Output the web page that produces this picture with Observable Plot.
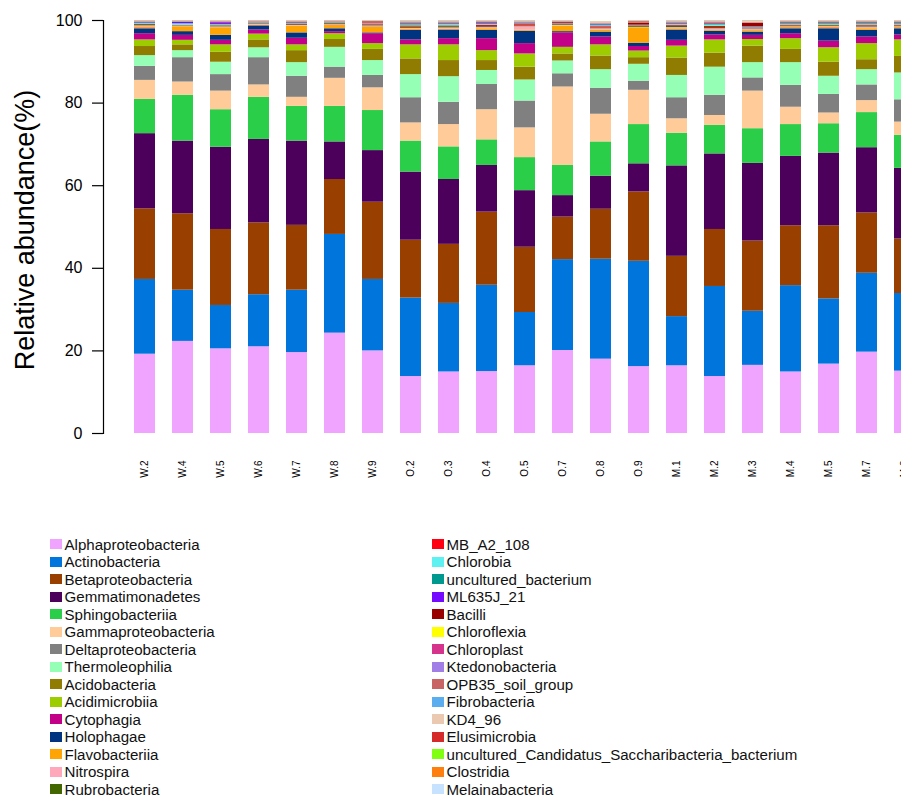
<!DOCTYPE html>
<html>
<head>
<meta charset="utf-8">
<script src="https://cdn.jsdelivr.net/npm/d3@7"></script>
<script src="https://cdn.jsdelivr.net/npm/@observablehq/plot@0.6"></script>
<style>
  html, body { margin: 0; padding: 0; background: #fff; overflow: hidden; width: 901px; height: 799px; }
  body { font-family: "Liberation Sans", Arial, Helvetica, sans-serif; position: relative; }
  #chart { position: absolute; left: 0; top: 0; width: 935px; }
  #chart svg { max-width: none !important; width: 935px !important; height: 490px !important; }
  #legend { position: absolute; left: 0; top: 0; width: 901px; height: 799px; }
  .item { position: absolute; height: 17.5px; line-height: 17.5px; font-size: 15.1px; color: #111; white-space: nowrap; }
  .sw { position: absolute; top: 3.5px; width: 12px; height: 10px; }
  .lab { position: absolute; }
</style>
</head>
<body>
<div id="chart"></div>
<div id="legend"></div>
<script>
const samples = ["W.2","W.4","W.5","W.6","W.7","W.8","W.9","O.2","O.3","O.4","O.5","O.7","O.8","O.9","M.1","M.2","M.3","M.4","M.5","M.7","M.8"];

const classes = ["Alphaproteobacteria","Actinobacteria","Betaproteobacteria","Gemmatimonadetes","Sphingobacteriia","Gammaproteobacteria","Deltaproteobacteria","Thermoleophilia","Acidobacteria","Acidimicrobiia","Cytophagia","Holophagae","Flavobacteriia","Nitrospira","Rubrobacteria","MB_A2_108","Chlorobia","uncultured_bacterium","ML635J_21","Bacilli","Chloroflexia","Chloroplast","Ktedonobacteria","OPB35_soil_group","Fibrobacteria","KD4_96","Elusimicrobia","uncultured_Candidatus_Saccharibacteria_bacterium","Clostridia","Melainabacteria"];

const colors = ["#F0A3FF","#0075DC","#993F00","#4C005C","#2BCE48","#FFCC99","#808080","#94FFB5","#8F7C00","#9DCC00","#C20088","#003380","#FFA405","#FFA8BB","#426600","#FF0010","#5EF1F2","#00998F","#740AFF","#990000","#FFFF00","#D6338C","#A07EE6","#C86464","#5AAEF0","#EBC8B0","#D42A2A","#80FF10","#FF7F0E","#C6E2FF"];

// relative abundance (%) per class, one value per sample (same order as samples)
const alphaproteobacteria = [19.2,22.3,20.5,21.0,19.6,24.3,20.0,13.8,14.9,15.0,16.4,20.1,18.0,16.2,16.4,13.8,16.5,14.9,16.8,19.7,15.1];
const actinobacteria      = [18.1,12.4,10.5,12.6,15.1,23.9,17.3,19.0,16.6,20.9,12.9,22.0,24.2,25.5,11.9,21.8,13.1,20.9,15.8,19.1,18.8];
const betaproteobacteria  = [17.1,18.5,18.4,17.4,15.7,13.3,18.7,14.0,14.3,17.7,15.8,10.3,12.1,16.8,14.6,13.8,17.0,14.5,17.7,14.6,13.2];
const gemmatimonadetes    = [18.2,17.6,19.9,20.2,20.4,9.1,12.5,16.5,15.7,11.3,13.7,5.2,8.0,6.8,21.9,18.3,18.8,16.8,17.6,15.8,17.1];
const sphingobacteriia    = [8.3,11.1,9.1,10.2,8.4,8.6,9.7,7.5,7.9,6.2,8.0,7.3,8.3,9.5,7.9,6.9,8.4,7.7,7.1,8.5,8.0];
const gammaproteobacteria = [4.6,3.2,4.5,3.0,2.2,6.8,5.5,4.4,5.4,7.3,7.2,19.0,6.7,8.3,3.5,2.4,9.1,4.2,2.6,2.9,3.2];
const deltaproteobacteria = [3.4,5.9,4.0,6.6,5.1,2.7,3.0,6.1,5.4,6.1,6.5,3.2,6.3,2.2,5.1,4.9,3.2,5.3,4.5,3.8,5.4];
const thermoleophilia     = [2.6,1.7,3.0,2.4,3.3,4.8,3.6,5.6,6.2,3.4,5.1,3.1,4.5,4.1,5.4,6.8,3.7,5.5,4.4,3.7,6.5];
const acidobacteria       = [2.2,1.4,2.4,1.9,2.9,1.9,2.7,3.8,3.9,2.4,3.1,1.7,3.3,1.6,4.2,3.4,4.0,3.2,3.4,2.4,4.0];
const acidimicrobiia      = [1.6,1.1,1.8,1.4,1.4,1.4,1.4,3.4,3.8,2.4,3.2,1.6,2.7,1.6,2.9,3.2,1.6,2.6,3.5,3.9,4.0];
const cytophagia          = [1.5,1.2,1.1,1.0,1.6,0.5,2.4,1.2,1.5,2.9,2.5,3.5,1.9,1.1,1.4,1.2,1.0,1.2,1.6,1.6,1.2];
const holophagae          = [1.2,0.9,1.2,1.0,1.3,0.7,0.2,2.3,2.1,2.0,3.0,0.3,1.2,0.8,2.5,0.9,0.8,1.2,3.0,1.6,1.5];
const flavobacteriia      = [0.3,1.2,1.85,0.2,1.6,0.8,1.4,0.3,0.2,0.4,0.3,1.35,0.5,3.75,0.3,0.2,0.35,0.3,0.3,0.4,0.3];
const nitrospira          = [0.4,0.15,0.2,0.2,0.2,0.2,0.1,0.2,0.3,0.3,0.8,0.2,0.3,0.1,0.3,0.4,0.4,0.2,0.3,0.4,0.2];
const rubrobacteria       = [0.3,0.1,0.2,0.1,0.2,0.2,0.1,0.3,0.3,0.2,0.2,0.2,0.2,0.3,0.3,0.3,0.2,0.2,0.2,0.3,0.2];
const mbA2108             = [0.1,0.1,0.1,0.1,0.1,0.1,0.1,0.3,0.2,0.3,0.3,0.1,0.3,0.1,0.2,0.3,0.1,0.2,0.1,0.2,0.2];
const chlorobia           = [0.15,0.3,0.2,0.1,0.1,0.1,0.05,0.2,0.3,0.2,0.1,0.05,0.2,0.05,0.2,0.3,0.1,0.2,0.2,0.2,0.2];
const unculturedBacterium = [0.15,0.1,0.1,0.1,0.1,0.1,0.05,0.3,0.2,0.2,0.1,0.05,0.2,0.05,0.2,0.2,0.1,0.2,0.2,0.2,0.2];
const ml635j21            = [0.1,0.3,0.4,0.05,0.1,0.05,0.05,0.1,0.1,0.2,0.1,0.05,0.1,0.05,0.1,0.1,0.05,0.1,0.1,0.1,0.1];
const bacilli             = [0.05,0.05,0.05,0.05,0.1,0.05,0.15,0.1,0.1,0.1,0.1,0.2,0.1,0.5,0.1,0.2,0.8,0.1,0.1,0.1,0.1];
const chloroflexia        = [0.05,0.05,0.05,0.05,0.05,0.05,0.05,0.05,0.05,0.05,0.05,0.05,0.05,0.05,0.05,0.05,0.05,0.05,0.05,0.05,0.05];
const chloroplast         = [0.05,0.05,0.05,0.05,0.05,0.05,0.05,0.05,0.05,0.05,0.05,0.05,0.05,0.05,0.05,0.05,0.05,0.05,0.05,0.05,0.05];
const ktedonobacteria     = [0.05,0.05,0.05,0.05,0.05,0.05,0.05,0.05,0.05,0.05,0.05,0.05,0.05,0.05,0.05,0.05,0.05,0.05,0.05,0.05,0.05];
const opb35               = [0.1,0.05,0.1,0.05,0.1,0.05,0.6,0.1,0.1,0.1,0.1,0.1,0.1,0.2,0.1,0.1,0.1,0.1,0.1,0.1,0.1];
const fibrobacteria       = [0.05,0.05,0.05,0.05,0.05,0.05,0.05,0.05,0.05,0.05,0.05,0.05,0.05,0.05,0.05,0.05,0.05,0.05,0.05,0.05,0.05];
const kd496               = [0.05,0.05,0.1,0.05,0.1,0.05,0.1,0.2,0.2,0.1,0.2,0.1,0.2,0.1,0.2,0.2,0.3,0.1,0.1,0.1,0.1];
const elusimicrobia       = [0.03,0.03,0.03,0.03,0.03,0.03,0.03,0.03,0.03,0.03,0.03,0.03,0.03,0.03,0.03,0.03,0.03,0.03,0.03,0.03,0.03];
const uncultCandidatus    = [0.03,0.03,0.03,0.03,0.03,0.03,0.03,0.03,0.03,0.03,0.03,0.03,0.03,0.03,0.03,0.03,0.03,0.03,0.03,0.03,0.03];
const clostridia          = [0.02,0.02,0.02,0.02,0.02,0.02,0.02,0.02,0.02,0.02,0.02,0.02,0.02,0.02,0.02,0.02,0.02,0.02,0.02,0.02,0.02];
const melainabacteria     = [0.02,0.02,0.02,0.02,0.02,0.02,0.02,0.02,0.02,0.02,0.02,0.02,0.02,0.02,0.02,0.02,0.02,0.02,0.02,0.02,0.02];

const yTicks = [0, 20, 40, 60, 80, 100];
const yLabel = "Relative abundance(%)";

const series = [alphaproteobacteria, actinobacteria, betaproteobacteria, gemmatimonadetes, sphingobacteriia, gammaproteobacteria, deltaproteobacteria, thermoleophilia, acidobacteria, acidimicrobiia, cytophagia, holophagae, flavobacteriia, nitrospira, rubrobacteria, mbA2108, chlorobia, unculturedBacterium, ml635j21, bacilli, chloroflexia, chloroplast, ktedonobacteria, opb35, fibrobacteria, kd496, elusimicrobia, uncultCandidatus, clostridia, melainabacteria];

const data = [];
classes.forEach((c, k) => {
  samples.forEach((s, i) => data.push({sample: s, cls: c, value: series[k][i]}));
});

const chart = Plot.plot({
  width: 935,
  height: 490,
  marginLeft: 103,
  marginRight: 2,
  marginTop: 20,
  marginBottom: 57,
  style: {fontFamily: "'Liberation Sans', Arial, Helvetica, sans-serif", color: "#000", background: "transparent", overflow: "visible", maxWidth: "none"},
  x: {domain: samples, padding: 0.447, range: [117.5, 932.5], label: null},
  y: {domain: [0, 100], label: null},
  color: {domain: classes, range: colors},
  marks: [
    Plot.barY(data, Plot.stackY({order: classes}, {x: "sample", y: "value", z: "cls", fill: "cls"})),
    Plot.axisX({tickSize: 0, tickRotate: -90, tickPadding: 27, fontSize: 10, label: null}),
    Plot.axisY({ticks: yTicks, tickSize: 11, tickPadding: 10, fontSize: 16, label: null, strokeWidth: 1.2}),
    Plot.frame({anchor: "left", stroke: "#000", strokeWidth: 1.2}),
    Plot.text([yLabel], {frameAnchor: "left", textAnchor: "middle", lineAnchor: "middle", dx: -78, dy: 3, rotate: -90, fontSize: 27, fill: "#000"})
  ]
});
document.getElementById("chart").appendChild(chart);

// legend: two columns of 15 entries
const legend = document.getElementById("legend");
classes.forEach((c, k) => {
  const col = Math.floor(k / 15), row = k % 15;
  const item = document.createElement("div");
  item.className = "item";
  item.style.left = (col === 0 ? 50 : 432) + "px";
  item.style.top = (535.5 + row * 17.5) + "px";
  const sw = document.createElement("span");
  sw.className = "sw";
  sw.style.left = "0px";
  sw.style.background = colors[k];
  const lab = document.createElement("span");
  lab.className = "lab";
  lab.style.left = "14.5px";
  lab.textContent = c;
  item.appendChild(sw);
  item.appendChild(lab);
  legend.appendChild(item);
});
</script>
</body>
</html>
